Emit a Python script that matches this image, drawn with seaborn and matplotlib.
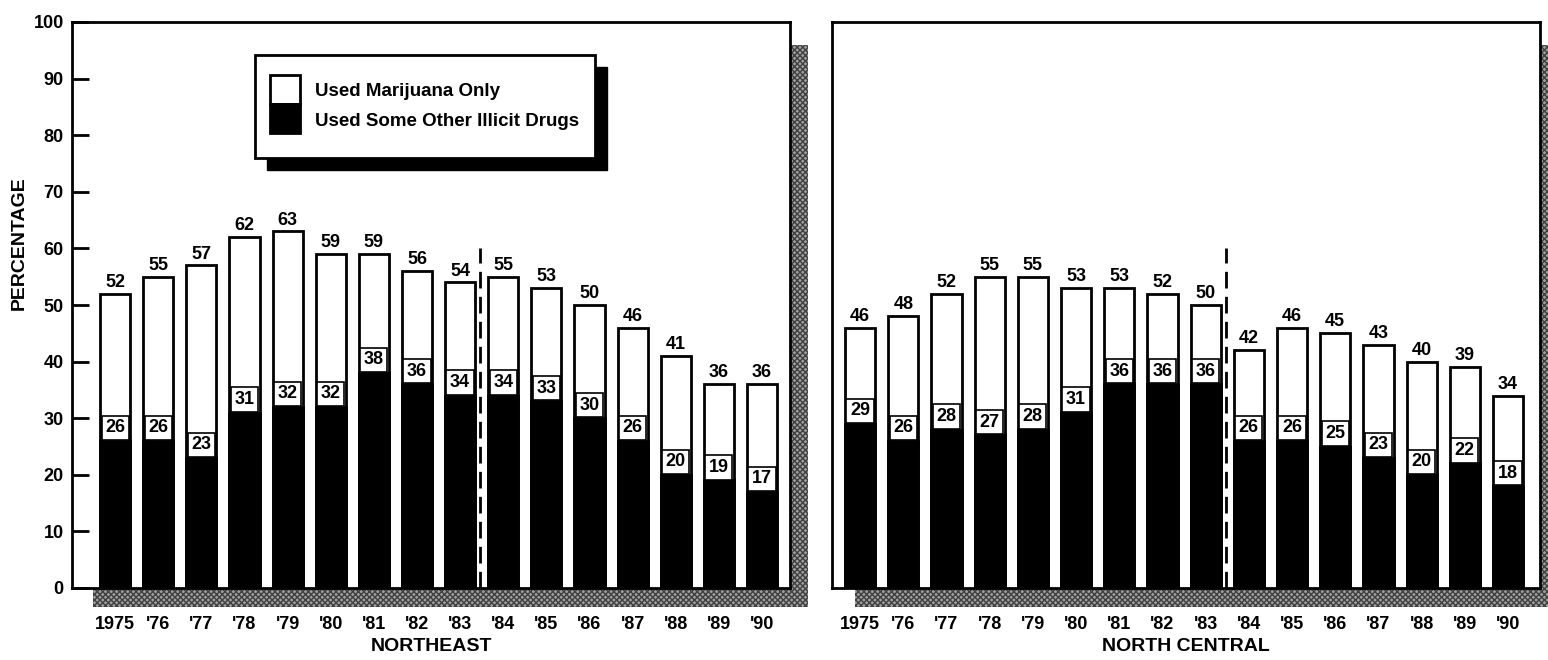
import pandas as pd
import matplotlib
matplotlib.use('Agg')
import matplotlib.pyplot as plt
from matplotlib.patches import Rectangle
import seaborn as sns

# 데이터
years = ['1975', "'76", "'77", "'78", "'79", "'80", "'81", "'82",
         "'83", "'84", "'85", "'86", "'87", "'88", "'89", "'90"]
ne_total = [52, 55, 57, 62, 63, 59, 59, 56, 54, 55, 53, 50, 46, 41, 36, 36]
ne_other = [26, 26, 23, 31, 32, 32, 38, 36, 34, 34, 33, 30, 26, 20, 19, 17]
nc_total = [46, 48, 52, 55, 55, 53, 53, 52, 50, 42, 46, 45, 43, 40, 39, 34]
nc_other = [29, 26, 28, 27, 28, 31, 36, 36, 36, 26, 26, 25, 23, 20, 22, 18]
regions = ['NORTHEAST', 'NORTH CENTRAL']
legend_labels = ['Used Marijuana Only', 'Used Some Other Illicit Drugs']

sns.set_style('white')
plt.rcParams['font.family'] = ['Liberation Sans', 'DejaVu Sans']
plt.rcParams['text.color'] = 'black'
plt.rcParams['xtick.color'] = 'black'
plt.rcParams['ytick.color'] = 'black'
plt.rcParams['axes.labelcolor'] = 'black'
plt.rcParams['font.weight'] = 'bold'
plt.rcParams['axes.labelweight'] = 'bold'

W, H = 1548, 660
fig = plt.figure(figsize=(W / 100, H / 100), dpi=100)


def px_rect(x0, y0, x1, y1):
    """픽셀 좌표(위에서 아래) -> figure 좌표 사각형"""
    return [x0 / W, 1 - y1 / H, (x1 - x0) / W, (y1 - y0) / H]


def shadow(x0, y0, x1, y1):
    r = Rectangle((x0 / W, 1 - y1 / H), (x1 - x0) / W, (y1 - y0) / H,
                  transform=fig.transFigure, facecolor='#a0a0a0',
                  edgecolor='#404040', hatch='xxxxxx', lw=0, zorder=0)
    fig.patches.append(r)


# 그림자 띠
shadow(790, 45, 808, 607)
shadow(93, 588, 808, 607)
shadow(1540, 45, 1548, 607)
shadow(855, 588, 1548, 607)

ax1 = fig.add_axes(px_rect(72, 22, 790, 588))
ax2 = fig.add_axes(px_rect(832, 22, 1540, 588))

panels = [(ax1, ne_total, ne_other, regions[0], (-1.0, 15.65)),
          (ax2, nc_total, nc_other, regions[1], (-0.65, 15.74))]

for ax, total, other, region, xlim in panels:
    df = pd.DataFrame({'year': years, 'total': total, 'other': other})
    sns.barplot(data=df, x='year', y='total', order=years, color='white',
                edgecolor='black', linewidth=2, width=0.7, saturation=1,
                ax=ax)
    sns.barplot(data=df, x='year', y='other', order=years, color='black',
                edgecolor='black', linewidth=2, width=0.7, saturation=1,
                ax=ax)
    for i, (t, o) in enumerate(zip(total, other)):
        ax.text(i, t + 0.5, str(t), ha='center', va='bottom', fontsize=13)
        ax.text(i, o + 0.8, str(o), ha='center', va='bottom', fontsize=13,
                bbox=dict(boxstyle='square,pad=0.2', facecolor='white',
                          edgecolor='black', lw=1.2))
    ax.vlines(8.47, 0, 60, colors='black', linestyles=(0, (6, 3)), lw=2,
              zorder=5)
    ax.set_xlim(*xlim)
    ax.set_ylim(0, 100)
    ax.set_xlabel(region, fontsize=14, labelpad=4)
    ax.set_ylabel('')
    ax.tick_params(axis='x', length=0, pad=20, labelsize=13)
    for s in ax.spines.values():
        s.set_visible(True)
        s.set_linewidth(2)
        s.set_color('black')
    ax.set_facecolor('white')
    ax.set_zorder(2)

ax1.set_yticks(range(0, 101, 10))
ax1.tick_params(axis='y', direction='in', length=12, width=2, labelsize=13,
                pad=6, left=True)
ax1.set_ylabel('PERCENTAGE', fontsize=14)
ax1.yaxis.set_label_coords(-0.062, 0.61)
ax2.set_yticks([])

# 범례 (그림자 있는 상자)
lx0, ly0, lx1, ly1 = 255, 55, 595, 158
fig.patches.append(Rectangle((lx0 / W + 12 / W, 1 - (ly1 + 12) / H),
                             (lx1 - lx0) / W, (ly1 - ly0) / H,
                             transform=fig.transFigure, facecolor='black',
                             edgecolor='black', zorder=10))
fig.patches.append(Rectangle((lx0 / W, 1 - ly1 / H), (lx1 - lx0) / W,
                             (ly1 - ly0) / H, transform=fig.transFigure,
                             facecolor='white', edgecolor='black', lw=2,
                             zorder=11))
fig.patches.append(Rectangle((270 / W, 1 - 104 / H), 30 / W, 29 / H,
                             transform=fig.transFigure, facecolor='white',
                             edgecolor='black', lw=2, zorder=12))
fig.patches.append(Rectangle((270 / W, 1 - 133 / H), 30 / W, 29 / H,
                             transform=fig.transFigure, facecolor='black',
                             edgecolor='black', lw=2, zorder=12))
fig.text(315 / W, 1 - 91 / H, legend_labels[0], fontsize=13.5,
         va='center', zorder=13)
fig.text(315 / W, 1 - 121 / H, legend_labels[1], fontsize=13.5,
         va='center', zorder=13)

fig.savefig('out.png', dpi=100, facecolor='white')
